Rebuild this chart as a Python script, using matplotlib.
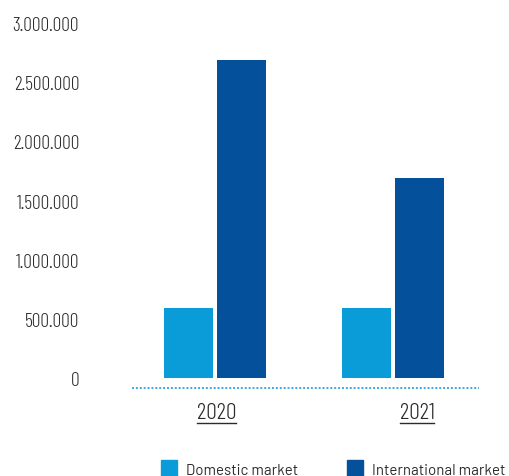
import matplotlib
matplotlib.use("Agg")
import matplotlib.pyplot as plt
from matplotlib.lines import Line2D
from matplotlib.patches import Rectangle

# sales by market, per year
years = ["2020", "2021"]
domestic = [595000, 595000]
international = [2690000, 1693000]
series_names = ["Domestic market", "International market"]

light_blue = "#0a9cd9"
dark_blue = "#04509a"
text_color = "#2b2b2b"
narrow = ["Barlow Condensed", "DejaVu Sans"]
plain = ["Barlow", "DejaVu Sans"]

W, H = 509, 477
fig = plt.figure(figsize=(W / 100, H / 100), dpi=100)
ax = fig.add_axes([132 / W, 88 / H, 347 / W, 365 / H])

group_x = [0, 1]
width = 0.275
off = 0.149
ax.bar([g - off for g in group_x], domestic, width, color=light_blue)
ax.bar([g + off for g in group_x], international, width, color=dark_blue)

ax.set_xlim(-0.466, 1.483)
ax.set_ylim(-84500, 3000000)

# dotted baseline under the bars
ax.axhline(-84500, color="#3aa9e0", lw=1.4, ls=(0, (1, 1)), clip_on=False)

for s in ax.spines.values():
    s.set_visible(False)

yt = [0, 500000, 1000000, 1500000, 2000000, 2500000, 3000000]
ax.set_yticks(yt)
ax.set_yticklabels([f"{v:,}".replace(",", ".") for v in yt],
                   family=narrow, weight=300, fontsize=14, color=text_color)
ax.tick_params(axis="y", length=0, pad=38)
ax.set_xticks([])

# underlined year labels
year_px = [216.5, 417]
labels = []
for px, y in zip(year_px, years):
    t = fig.text(px / W, (H - 419) / H, y, ha="center", va="baseline",
                 family=narrow, weight=300, fontsize=17, color=text_color)
    labels.append(t)

fig.canvas.draw()
r = fig.canvas.get_renderer()
for t in labels:
    bb = t.get_window_extent(r)
    fig.lines.append(Line2D([bb.x0 / W, bb.x1 / W], [(H - 424) / H] * 2,
                            transform=fig.transFigure,
                            color=text_color, lw=1.0))

# legend boxes
leg = [(161, light_blue, series_names[0]), (347, dark_blue, series_names[1])]
for px, c, name in leg:
    fig.patches.append(Rectangle((px / W, 0), 16 / W, 16 / H,
                                 transform=fig.transFigure, color=c))
    fig.text((px + 25) / W, 2 / H, name, va="baseline", ha="left",
             family=plain, fontsize=10.8, color=text_color)

fig.savefig("out.png", dpi=100)
